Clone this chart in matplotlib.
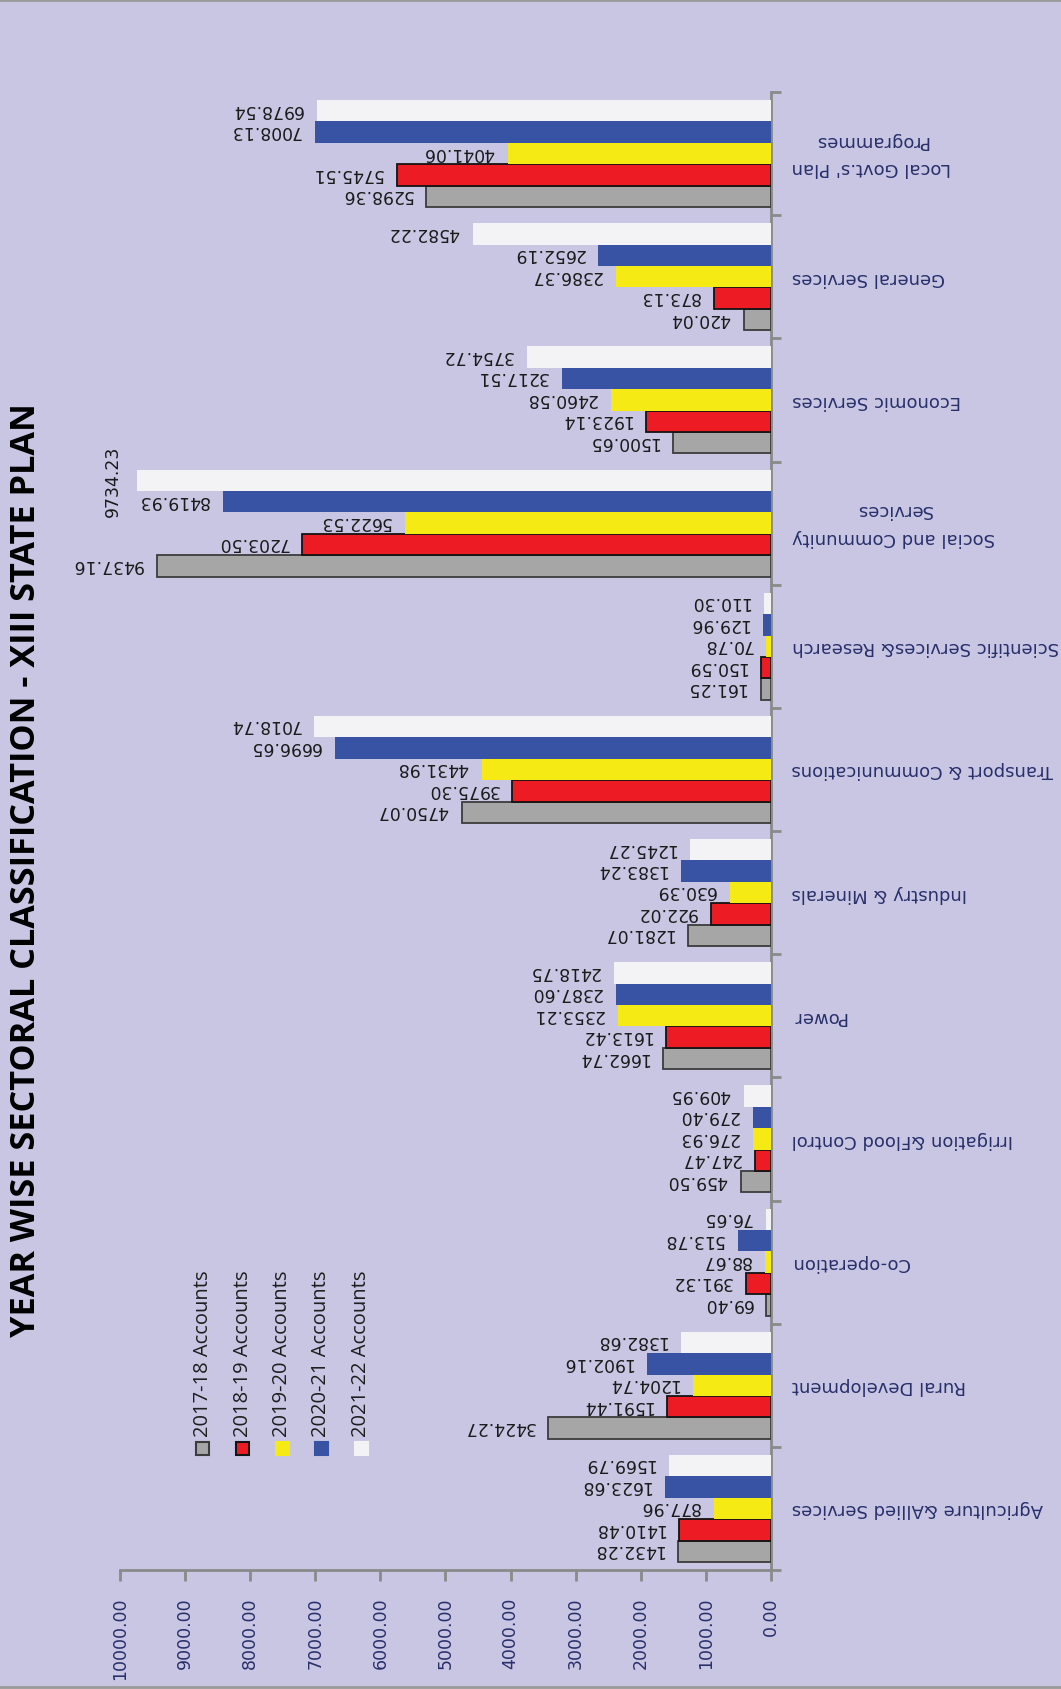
import numpy as np
import matplotlib
matplotlib.use('Agg')
from matplotlib import pyplot as plt
from matplotlib import font_manager
from matplotlib.lines import Line2D
from matplotlib.patches import Rectangle

categories = ['Agriculture &Allied Services', 'Rural Development', 'Co-operation',
              'Irrigation &Flood Control', 'Power', 'Industry & Minerals',
              'Transport & Communications', 'Scientific Services& Research',
              'Social and Community\nServices', 'Economic Services',
              'General Services', "Local Govt.s' Plan\nProgrammes"]
years = ['2017-18 Accounts', '2018-19 Accounts', '2019-20 Accounts',
         '2020-21 Accounts', '2021-22 Accounts']

acc_2017_18 = [1432.28, 3424.27, 69.40, 459.50, 1662.74, 1281.07, 4750.07, 161.25, 9437.16, 1500.65, 420.04, 5298.36]
acc_2018_19 = [1410.48, 1591.44, 391.32, 247.47, 1613.42, 922.02, 3975.30, 150.59, 7203.50, 1923.14, 873.13, 5745.51]
acc_2019_20 = [877.96, 1204.74, 88.67, 276.93, 2353.21, 630.39, 4431.98, 70.78, 5622.53, 2460.58, 2386.37, 4041.06]
acc_2020_21 = [1623.68, 1902.16, 513.78, 279.40, 2387.60, 1383.24, 6696.65, 129.96, 8419.93, 3217.51, 2652.19, 7008.13]
acc_2021_22 = [1569.79, 1382.68, 76.65, 409.95, 2418.75, 1245.27, 7018.74, 110.30, 9734.23, 3754.72, 4582.22, 6978.54]

value_ticks = np.arange(0, 10001, 1000)

series = [acc_2017_18, acc_2018_19, acc_2019_20, acc_2020_21, acc_2021_22]
colors = ['#a6a6a6', '#ed1c24', '#f5ea14', '#3953a4', '#f3f3f5']
edges = ['#3c3c3c', '#141414', 'none', 'none', 'none']

BG = '#c8c6e3'
NAVY = '#282f6a'
AXC = '#8a8a8a'

names = {f.name for f in font_manager.fontManager.ttflist}
if 'Liberation Sans Narrow' in names:
    tick_font, tick_size = 'Liberation Sans Narrow', 17
else:
    tick_font, tick_size = 'DejaVu Sans', 12.5

W, H = 1061, 1690
fig = plt.figure(figsize=(W / 100, H / 100), dpi=100, facecolor=BG)
ax = fig.add_axes([120 / W, 1 - 1571 / H, 651 / W, 1478 / H])
ax.set_facecolor(BG)

bh = 0.174
y = np.arange(len(categories))
for k, vals in enumerate(series):
    pos = y + (k - 2) * bh
    ax.barh(pos, vals, height=bh, color=colors[k], edgecolor=edges[k],
            linewidth=1.3 if edges[k] != 'none' else 0, zorder=3)
    for p, v in zip(pos, vals):
        if v > 9600:
            # the top value does not fit, so it stands on its side
            ax.annotate(f'{v:.2f}', xy=(v, p), xytext=(-11, 0), textcoords='offset points',
                        rotation=90, ha='right', va='center', fontsize=12.4,
                        color='#1a1a1a', family='DejaVu Sans')
        else:
            ax.annotate(f'{v:.2f}', xy=(v, p), xytext=(-10, 1.5), textcoords='offset points',
                        rotation=180, ha='right', va='center', fontsize=12.4,
                        color='#1a1a1a', family='DejaVu Sans')

ax.set_xlim(10000, 0)
ax.set_ylim(-0.5, len(categories) - 0.5)

for s in ['left', 'top']:
    ax.spines[s].set_visible(False)
for s in ['bottom', 'right']:
    ax.spines[s].set_color(AXC)
    ax.spines[s].set_linewidth(2)

ax.set_xticks(value_ticks)
ax.set_xticklabels([f'{t:.2f}' for t in value_ticks], rotation=90,
                   family=tick_font, fontsize=tick_size, color=NAVY)
ax.tick_params(axis='x', length=8, width=2, color=AXC, pad=11)

ax.yaxis.tick_right()
ax.set_yticks(np.arange(len(categories) + 1) - 0.5)
ax.set_yticklabels([])
ax.set_yticks(y, minor=True)
ax.set_yticklabels(categories, minor=True, rotation=180, ha='left', va='center',
                   fontsize=13, color=NAVY, family='DejaVu Sans',
                   multialignment='center', linespacing=1.7)
ax.tick_params(axis='y', which='major', length=7, width=2, color=AXC)
ax.tick_params(axis='y', which='minor', length=0, pad=15)

# legend, drawn by hand because the text is turned
lx = [202.7, 242.7, 282.3, 321.3, 361.3]
for k, name in enumerate(years):
    fig.add_artist(Rectangle(((lx[k] - 6.5) / W, 1 - 1455.5 / H), 13 / W, 13 / H,
                             transform=fig.transFigure, facecolor=colors[k],
                             edgecolor=edges[k] if edges[k] != 'none' else colors[k],
                             linewidth=1.5))
    fig.text(lx[k] / W, 1 - 1437 / H, name, rotation=90, ha='center', va='bottom',
             fontsize=14.5, color='#1e1e1e', family='Open Sans')

title = fig.text(26 / W, 1 - 870 / H, 'YEAR WISE SECTORAL CLASSIFICATION - XIII STATE PLAN',
                 rotation=90, ha='center', va='center', fontsize=26,
                 fontweight='bold', family='Open Sans', color='black')
fig.canvas.draw()
bb = title.get_window_extent(fig.canvas.get_renderer())
title.set_fontsize(26 * 933 / bb.height)

fig.add_artist(Line2D([0, 1], [1 - 1 / H, 1 - 1 / H], transform=fig.transFigure, color='#9a9a9a', lw=2))
fig.add_artist(Line2D([0, 1], [1 - 1688 / H, 1 - 1688 / H], transform=fig.transFigure, color='#9a9a9a', lw=2))

fig.savefig('out.png', dpi=100, facecolor=BG)
